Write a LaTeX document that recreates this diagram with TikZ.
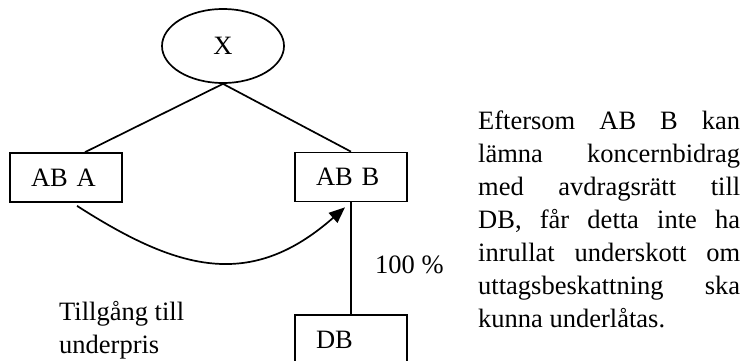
\documentclass[tikz,border=0pt]{standalone}
\usepackage{fontspec}
\setmainfont{Liberation Serif}
\usetikzlibrary{arrows.meta,calc,shapes.geometric}
\begin{document}
\begin{tikzpicture}[x=1pt,y=-1pt,
  every node/.style={font=\fontsize{26.5}{33}\selectfont},
  ln/.style={line width=1.7pt,draw=black},
  boxnode/.style={ln,rectangle,text width=70pt,inner xsep=21pt,inner ysep=0pt,minimum height=49pt,align=left},
  txt/.style={inner sep=0pt,anchor=base west}]
\useasboundingbox (0,0) rectangle (746,360);
\clip (0,0) rectangle (746,360);
\node[ln,ellipse,minimum width=122pt,minimum height=74pt,inner sep=0pt] (X) at (223,46) {X};
\node[boxnode] (aba) at (66,177.5) {AB A};
\node[boxnode] (abb) at (351,177) {AB B};
\node[boxnode] (db) at (351,339.5) {DB};
\draw[ln] (X.south) -- ($(aba.north)+(19,0)$);
\draw[ln] (X.south) -- (abb.north);
\draw[ln] (abb.south) -- (db.north);
\draw[ln,-{Triangle[length=16pt,width=13pt]}] ($(aba.south)+(11,3)$) .. controls (177,270) and (250,291) .. ($(abb.south)+(-6,5)$);
\node[txt] (pct) at (375,273) {100 \%};
\node[txt] (t1) at (59,320) {Tillgång till};
\node[txt] (t2) at (59,353) {underpris};
\node[txt] (p1) at (478,129) {\hbox to 262pt{Eftersom\hfill AB\hfill B\hfill kan}};
\node[txt] (p2) at (478,162) {\hbox to 262pt{lämna\hfill koncernbidrag}};
\node[txt] (p3) at (478,195) {\hbox to 262pt{med\hfill avdragsrätt\hfill till}};
\node[txt] (p4) at (478,228) {\hbox to 262pt{DB,\hfill får\hfill detta\hfill inte\hfill ha}};
\node[txt] (p5) at (478,261) {\hbox to 262pt{inrullat\hfill underskott\hfill om}};
\node[txt] (p6) at (478,294) {\hbox to 262pt{uttagsbeskattning\hfill ska}};
\node[txt] (p7) at (478,327) {kunna underlåtas.};
\end{tikzpicture}
\end{document}
